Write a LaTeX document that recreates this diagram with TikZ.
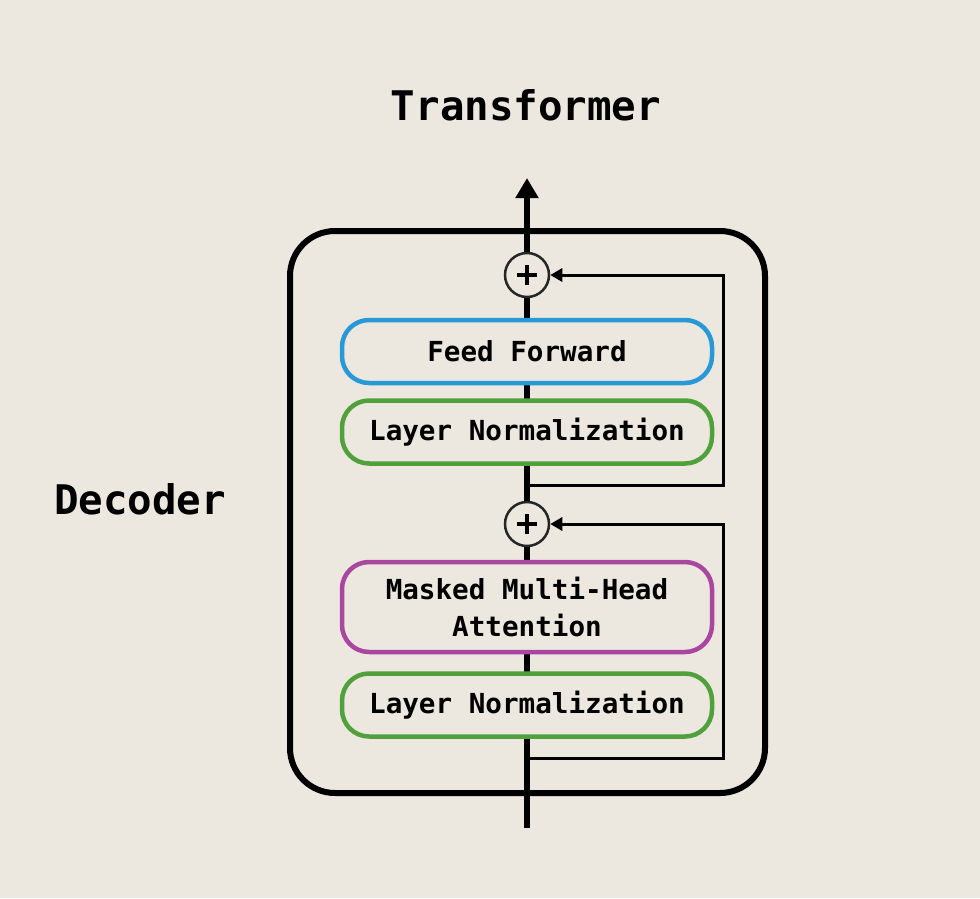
\documentclass[tikz,border=0pt]{standalone}
\usepackage{fontspec}
\setmonofont{DejaVu Sans Mono}
\usetikzlibrary{arrows.meta}
\definecolor{bg}{RGB}{236,231,223}
\definecolor{ffblue}{RGB}{38,153,214}
\definecolor{lngreen}{RGB}{80,160,60}
\definecolor{mhpurple}{RGB}{168,70,160}
\tikzset{
  blk/.style={draw, line width=4.5pt, fill=bg, rounded corners=27pt, minimum width=370pt, minimum height=63pt, inner sep=0pt, align=center, font=\ttfamily\bfseries\fontsize{27.6}{37}\selectfont},
  addc/.style={circle, draw=black!85, line width=2.5pt, fill=bg, minimum size=44pt, inner sep=0pt},
  mainline/.style={line width=6pt, -{Triangle[length=20pt,width=22pt]}},
  resid/.style={line width=3pt, -{Triangle[length=12pt,width=13pt]}},
  title/.style={font=\ttfamily\bfseries\fontsize{40.8}{48}\selectfont}
}
\begin{document}
\begin{tikzpicture}[x=1pt,y=-1pt]
\fill[bg] (0,0) rectangle (980,898);
\useasboundingbox (0,0) rectangle (980,898);
\node[title] (title) at (526,105) {Transformer};
\node[title] (dec) at (140,499) {Decoder};
\draw[line width=6pt, rounded corners=45pt] (290,231) rectangle (765,793);
\coordinate (in) at (527,828);
\coordinate (out) at (527,178);
\draw[mainline] (in) -- (out);
\node[blk, draw=ffblue] (ff) at (527,351.5) {Feed Forward};
\node[blk, draw=lngreen] (ln1) at (527,432) {Layer Normalization};
\node[blk, draw=mhpurple, minimum height=90pt] (mha) at (527,607) {Masked Multi-Head\\Attention};
\node[blk, draw=lngreen] (ln2) at (527,705) {Layer Normalization};
\node[addc] (add1) at (527,275) {};
\node[addc] (add2) at (527,524) {};
\foreach \c in {add1,add2}{
  \draw[line width=3.5pt] ([xshift=-10pt]\c.center) -- ([xshift=10pt]\c.center);
  \draw[line width=3.5pt] ([yshift=-10pt]\c.center) -- ([yshift=10pt]\c.center);
}
\coordinate (r1) at (527,485);
\coordinate (r2) at (527,758);
\draw[resid] (r1) -| (723,275) -- (add1.east);
\draw[resid] (r2) -| (723,524) -- (add2.east);
\end{tikzpicture}
\end{document}
